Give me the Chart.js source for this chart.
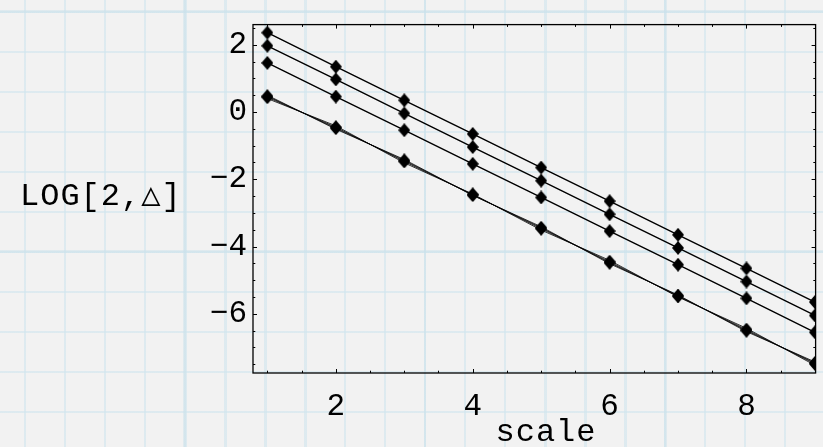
<!DOCTYPE html>
<html>
<head>
<meta charset="utf-8">
<script src="https://cdn.jsdelivr.net/npm/chart.js@4.4.1/dist/chart.umd.min.js"></script>
<style>
  html, body {
    margin: 0;
    padding: 0;
    width: 823px;
    height: 447px;
    overflow: hidden;
    background-color: #f2f2f2;
    background-image:
      repeating-linear-gradient(to right, transparent 0 183.5px, rgba(200, 224, 234, 0.45) 183.5px 186.5px, transparent 186.5px 240px),
      repeating-linear-gradient(to bottom, transparent 0 10.5px, rgba(200, 224, 234, 0.45) 10.5px 13.5px, transparent 13.5px 240px),
      repeating-linear-gradient(to right, transparent 0 24px, rgba(208, 229, 238, 0.6) 24px 26.5px, transparent 26.5px 40px),
      repeating-linear-gradient(to bottom, transparent 0 10.8px, rgba(208, 229, 238, 0.6) 10.8px 13.2px, transparent 13.2px 40px);
  }
  #wrap {
    position: relative;
    width: 823px;
    height: 447px;
  }
</style>
</head>
<body>
<div id="wrap"><canvas id="scaleChart"></canvas></div>
<script>
// scale values
const scaleValues = [1, 2, 3, 4, 5, 6, 7, 8, 9];

// upper three curves
const seriesA = [2.36, 1.35, 0.35, -0.65, -1.65, -2.65, -3.65, -4.65, -5.65];
const seriesB = [1.97, 0.97, -0.04, -1.04, -2.04, -3.04, -4.04, -5.04, -6.05];
const seriesC = [1.46, 0.46, -0.54, -1.54, -2.54, -3.54, -4.54, -5.54, -6.55];

// lower bundle of almost identical curves
const seriesD1 = [0.40, -0.41, -1.51, -2.44, -3.51, -4.41, -5.50, -6.43, -7.53];
const seriesD2 = [0.44, -0.45, -1.47, -2.45, -3.47, -4.45, -5.48, -6.47, -7.49];
const seriesD3 = [0.47, -0.48, -1.44, -2.47, -3.44, -4.48, -5.46, -6.50, -7.46];
const seriesD4 = [0.50, -0.51, -1.41, -2.48, -3.41, -4.51, -5.44, -6.53, -7.43];

const xTickLabels = [2, 4, 6, 8];
const yTickLabels = [-6, -4, -2, 0, 2];

const xTitle = "scale";
const yTitle = "LOG[2,\u25B3]";

const monoFont = "'Liberation Mono', 'DejaVu Sans Mono', monospace";

function makeDiamond(w, h) {
  const c = document.createElement("canvas");
  c.width = w;
  c.height = h;
  const g = c.getContext("2d");
  g.fillStyle = "#000";
  g.beginPath();
  g.moveTo(w / 2, 0);
  g.lineTo(w, h / 2);
  g.lineTo(w / 2, h);
  g.lineTo(0, h / 2);
  g.closePath();
  g.fill();
  return c;
}

const diamond = makeDiamond(12, 14);

function toPoints(values) {
  return scaleValues.map((x, i) => ({ x: x, y: values[i] }));
}

function makeDataset(values, width, withMarkers) {
  return {
    data: toPoints(values),
    showLine: true,
    borderColor: "#000",
    borderWidth: width,
    backgroundColor: "#000",
    pointStyle: withMarkers ? diamond : false,
    pointRadius: withMarkers ? 6 : 0,
    pointHoverRadius: withMarkers ? 6 : 0,
    tension: 0,
    fill: false
  };
}

function minusLabel(v) {
  return v < 0 ? "\u2212" + Math.abs(v) : String(v);
}

// inward tick marks, frame and the two axis titles
const frameAndTitles = {
  id: "frameAndTitles",
  afterDraw(chart) {
    const { ctx, chartArea: a, scales } = chart;
    const x = scales.x;
    const y = scales.y;

    ctx.save();
    ctx.strokeStyle = "#000";
    ctx.lineWidth = 1.3;
    ctx.strokeRect(a.left, a.top, a.right - a.left, a.bottom - a.top);

    ctx.lineWidth = 1;
    ctx.beginPath();
    for (let v = Math.ceil(x.min * 2) / 2; v <= x.max; v += 0.5) {
      const px = Math.round(x.getPixelForValue(v)) + 0.5;
      const len = v % 2 === 0 ? 4 : 2.3;
      ctx.moveTo(px, a.bottom);
      ctx.lineTo(px, a.bottom - len);
      ctx.moveTo(px, a.top);
      ctx.lineTo(px, a.top + len);
    }
    for (let v = Math.ceil(y.min * 2) / 2; v <= y.max; v += 0.5) {
      const py = Math.round(y.getPixelForValue(v)) + 0.5;
      const len = v % 2 === 0 ? 4 : 2.3;
      ctx.moveTo(a.left, py);
      ctx.lineTo(a.left + len, py);
      ctx.moveTo(a.right, py);
      ctx.lineTo(a.right - len, py);
    }
    ctx.stroke();

    ctx.fillStyle = "#000";
    ctx.font = "32px " + monoFont;
    ctx.letterSpacing = "1px";
    ctx.textBaseline = "alphabetic";
    ctx.textAlign = "left";
    ctx.fillText(yTitle, 20, 205);
    ctx.textAlign = "center";
    ctx.fillText(xTitle, 546, 441);
    ctx.restore();
  }
};

const chart = new Chart(document.getElementById("scaleChart"), {
  type: "scatter",
  data: {
    datasets: [
      makeDataset(seriesA, 1.4, true),
      makeDataset(seriesB, 1.4, true),
      makeDataset(seriesC, 1.4, true),
      makeDataset(seriesD1, 0.8, false),
      makeDataset(seriesD2, 0.8, true),
      makeDataset(seriesD3, 0.8, true),
      makeDataset(seriesD4, 0.8, false)
    ]
  },
  options: {
    responsive: true,
    maintainAspectRatio: false,
    animation: false,
    layout: {
      padding: { top: 13, right: 0, bottom: 0, left: 0 }
    },
    scales: {
      x: {
        type: "linear",
        min: 0.79,
        max: 9.01,
        afterFit(scale) { scale.height = 74; },
        afterBuildTicks(scale) { scale.ticks = xTickLabels.map(v => ({ value: v })); },
        grid: { display: false, drawTicks: false },
        border: { display: false },
        ticks: {
          color: "#000",
          padding: 15,
          maxRotation: 0,
          font: { family: monoFont, size: 31 },
          callback: minusLabel
        }
      },
      y: {
        type: "linear",
        min: -7.76,
        max: 2.6,
        afterFit(scale) { scale.width = 253; },
        afterBuildTicks(scale) { scale.ticks = yTickLabels.map(v => ({ value: v })); },
        grid: { display: false, drawTicks: false },
        border: { display: false },
        ticks: {
          color: "#000",
          padding: 6,
          font: { family: monoFont, size: 31 },
          callback: minusLabel
        }
      }
    },
    plugins: {
      legend: { display: false },
      tooltip: { enabled: false },
      title: { display: false }
    }
  },
  plugins: [frameAndTitles]
});
</script>
</body>
</html>
